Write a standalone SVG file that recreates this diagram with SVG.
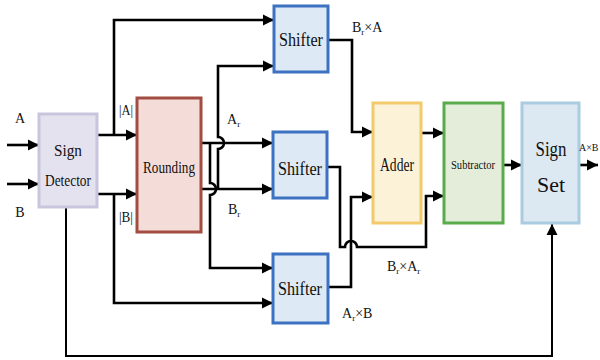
<svg xmlns="http://www.w3.org/2000/svg" width="600" height="360" viewBox="0 0 600 360" font-family="'Liberation Serif', 'DejaVu Serif', serif">
<style>
.box{stroke-width:3}
text{font-family:'Liberation Serif','DejaVu Serif',serif;fill:#111}
.t{text-anchor:middle}
.l{font-size:14px}
.w{fill:none;stroke:#000;stroke-width:2.6}
.f{fill:none;stroke:#000;stroke-width:2}
</style>
<defs>
<marker id="ah" markerUnits="userSpaceOnUse" markerWidth="12" markerHeight="12" refX="11" refY="6" orient="auto">
<path d="M0,0.5 L11,6 L0,11.5 Z" fill="#000"/>
</marker>
</defs>
<rect width="600" height="360" fill="#fff"/>
<g id="connectors">
<path class="w" d="M7,145 H39" marker-end="url(#ah)"/>
<path class="w" d="M7,184 H39" marker-end="url(#ah)"/>
<path class="w" d="M97,135 H137" marker-end="url(#ah)"/>
<path class="w" d="M114,135 V20 H274" marker-end="url(#ah)"/>
<path class="w" d="M97,194 H137" marker-end="url(#ah)"/>
<path class="w" d="M114,194 V303 H273" marker-end="url(#ah)"/>
<path class="f" d="M66,207 V356 H552 V224" marker-end="url(#ah)"/>
<path class="w" d="M201,143 H273" marker-end="url(#ah)"/>
<path class="w" d="M201,189 H273" marker-end="url(#ah)"/>
<path class="w" d="M210,143 V183 a6,6 0 0 1 0,12 V268 H273" marker-end="url(#ah)"/>
<path class="w" d="M218,189 V149 a6,6 0 0 0 0,-12 V66 H274" marker-end="url(#ah)"/>
<path class="w" d="M328,40 H352 V132 H373" marker-end="url(#ah)"/>
<path class="w" d="M328,167 H340 V247 H345 a6,6 0 0 1 12,0 H426 V196 H444" marker-end="url(#ah)"/>
<path class="w" d="M328,287 H351 V197 H373" marker-end="url(#ah)"/>
<path class="w" d="M421,133 H444" marker-end="url(#ah)"/>
<path class="w" d="M503,165 H522" marker-end="url(#ah)"/>
<path class="w" d="M579,165 H598" marker-end="url(#ah)"/>
</g>
<g id="sign-detector">
<rect class="box" x="39" y="114" width="58" height="93" fill="#e5e2ef" stroke="#c9c5dc"/>
<text class="t" x="68" y="156" font-size="17" textLength="28" lengthAdjust="spacingAndGlyphs">Sign</text>
<text class="t" x="68" y="186" font-size="17" textLength="46" lengthAdjust="spacingAndGlyphs">Detector</text>
</g>
<g id="rounding">
<rect class="box" x="137" y="98" width="64" height="134" fill="#f4ddd9" stroke="#a24c42"/>
<text class="t" x="169" y="173" font-size="17" textLength="52" lengthAdjust="spacingAndGlyphs">Rounding</text>
</g>
<g id="shifter-top">
<rect class="box" x="274" y="6" width="54" height="66" fill="#dde9f4" stroke="#3d72c2"/>
<text class="t" x="301" y="46" font-size="19" textLength="44" lengthAdjust="spacingAndGlyphs">Shifter</text>
</g>
<g id="shifter-mid">
<rect class="box" x="273" y="132" width="54" height="66" fill="#dde9f4" stroke="#3d72c2"/>
<text class="t" x="300" y="175" font-size="19" textLength="44" lengthAdjust="spacingAndGlyphs">Shifter</text>
</g>
<g id="shifter-bot">
<rect class="box" x="273" y="254" width="55" height="69" fill="#dde9f4" stroke="#3d72c2"/>
<text class="t" x="300" y="295" font-size="19" textLength="44" lengthAdjust="spacingAndGlyphs">Shifter</text>
</g>
<g id="adder">
<rect class="box" x="373" y="103" width="48" height="120" fill="#fcf2d8" stroke="#f2ca6c"/>
<text class="t" x="397" y="171" font-size="18" textLength="34" lengthAdjust="spacingAndGlyphs">Adder</text>
</g>
<g id="subtractor">
<rect class="box" x="444" y="103" width="59" height="120" fill="#e4edda" stroke="#5aab4b"/>
<text class="t" x="473" y="169" font-size="13" textLength="44" lengthAdjust="spacingAndGlyphs">Subtractor</text>
</g>
<g id="sign-set">
<rect class="box" x="522" y="103" width="57" height="120" fill="#dce8f2" stroke="#aacce0"/>
<text class="t" x="551" y="156" font-size="22" textLength="31" lengthAdjust="spacingAndGlyphs">Sign</text>
<text class="t" x="551" y="192" font-size="22" textLength="28" lengthAdjust="spacingAndGlyphs">Set</text>
</g>
<g id="labels">
<text class="l t" x="20" y="123">A</text>
<text class="l t" x="20" y="217">B</text>
<text class="l t" x="126" y="115" textLength="14" lengthAdjust="spacingAndGlyphs">|A|</text>
<text class="l t" x="126" y="222" textLength="14" lengthAdjust="spacingAndGlyphs">|B|</text>
<text class="l" x="227" y="124">A<tspan font-size="9" dy="3">r</tspan></text>
<text class="l" x="228" y="214">B<tspan font-size="9" dy="3">r</tspan></text>
<text class="l" x="352" y="32">B<tspan font-size="9" dy="3">r</tspan><tspan dy="-3">×A</tspan></text>
<text class="l" x="387" y="271">B<tspan font-size="9" dy="3">r</tspan><tspan dy="-3">×A</tspan><tspan font-size="9" dy="3">r</tspan></text>
<text class="l" x="342" y="318">A<tspan font-size="9" dy="3">r</tspan><tspan dy="-3">×B</tspan></text>
<text x="579" y="151" font-size="10">A×B</text>
</g>
</svg>
